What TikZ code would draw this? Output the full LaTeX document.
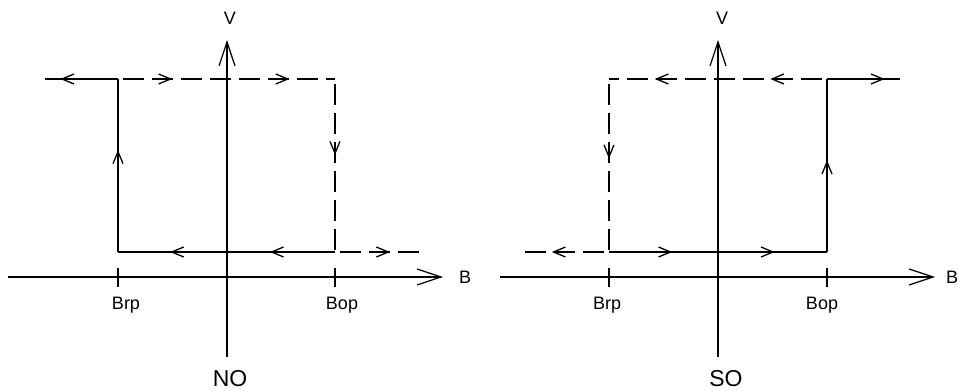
\documentclass[tikz,border=0pt]{standalone}
\usepackage{fontspec}
\setmainfont{Liberation Sans}
\usetikzlibrary{arrows.meta, decorations.markings}

\tikzset{
  axis/.style={line width=1.2pt, -{Straight Barb[length=24pt,width=16pt,line width=1.2pt]}},
  loopline/.style={line width=1.3pt},
  loopdash/.style={line width=1.3pt, dash pattern=on 21pt off 8pt, dash phase=24pt},
  flow/.style={postaction={decorate, decoration={markings,
      mark=at position #1 with {\arrow{Straight Barb[length=12pt,width=10pt,line width=1.3pt]}}}}},
  lbl/.style={inner sep=0pt, font=\fontsize{18}{20}\selectfont},
  title/.style={inner sep=0pt, font=\fontsize{23}{25}\selectfont},
}

\begin{document}
\begin{tikzpicture}[x=1pt, y=1pt]
  \useasboundingbox (0,0) rectangle (959,391);

  % NO output
  \begin{scope}[shift={(227,114)}]
    \coordinate (NOleft) at (-219,0);
    \coordinate (NOright) at (216,0);
    \coordinate (NObottom) at (0,-80);
    \coordinate (NOtop) at (0,237);
    \draw[axis] (NOleft) -- (NOright);
    \draw[axis] (NObottom) -- (NOtop);
    \node[lbl, anchor=west] (NOb) at (232,0) {B};
    \node[lbl, anchor=north] (NOv) at (3,265) {V};
    \node[title, anchor=north] (NOname) at (3,-93) {NO};
    % switching points
    \coordinate (NOrb) at (-109,25);
    \coordinate (NOrt) at (-109,198);
    \coordinate (NOob) at (108,25);
    \coordinate (NOot) at (108,198);
    \coordinate (NOend) at (-182,198);
    \coordinate (NOfar) at (194,25);
    \draw[line width=1.2pt] (-109,9) -- (-109,-10);
    \draw[line width=1.2pt] (108,9) -- (108,-10);
    \node[lbl, anchor=north] (NObrp) at (-101,-20) {Brp};
    \node[lbl, anchor=north] (NObop) at (115,-20) {Bop};
    \draw[loopline, flow=0.30, flow=0.76] (NOob) -- (NOrb);
    \draw[loopline, flow=0.59] (NOrb) -- (NOrt);
    \draw[loopline, flow=0.79] (NOrt) -- (NOend);
    \draw[loopdash, flow=0.25, flow=0.79] (NOrt) -- (NOot);
    \draw[loopdash, flow=0.44] (NOot) -- (NOob);
    \draw[loopdash, flow=0.64] (NOob) -- (NOfar);
  \end{scope}

  % SO output
  \begin{scope}[shift={(718,114)}]
    \coordinate (SOleft) at (-218,0);
    \coordinate (SOright) at (217,0);
    \coordinate (SObottom) at (0,-80);
    \coordinate (SOtop) at (0,237);
    \draw[axis] (SOleft) -- (SOright);
    \draw[axis] (SObottom) -- (SOtop);
    \node[lbl, anchor=west] (SOb) at (228,0) {B};
    \node[lbl, anchor=north] (SOv) at (4,265) {V};
    \node[title, anchor=north] (SOname) at (8,-93) {SO};
    % switching points
    \coordinate (SOrb) at (-109,25);
    \coordinate (SOrt) at (-109,198);
    \coordinate (SOob) at (109,25);
    \coordinate (SOot) at (109,198);
    \coordinate (SOend) at (182,198);
    \coordinate (SOfar) at (-197,25);
    \draw[line width=1.2pt] (-109,9) -- (-109,-10);
    \draw[line width=1.2pt] (109,9) -- (109,-10);
    \node[lbl, anchor=north] (SObrp) at (-111,-20) {Brp};
    \node[lbl, anchor=north] (SObop) at (104,-20) {Bop};
    \draw[loopline, flow=0.29, flow=0.76] (SOrb) -- (SOob);
    \draw[loopline, flow=0.53] (SOob) -- (SOot);
    \draw[loopline, flow=0.79] (SOot) -- (SOend);
    \draw[loopdash, flow=0.26, flow=0.79] (SOot) -- (SOrt);
    \draw[loopdash, flow=0.46] (SOrt) -- (SOrb);
    \draw[loopdash, flow=0.65] (SOrb) -- (SOfar);
  \end{scope}
\end{tikzpicture}
\end{document}
